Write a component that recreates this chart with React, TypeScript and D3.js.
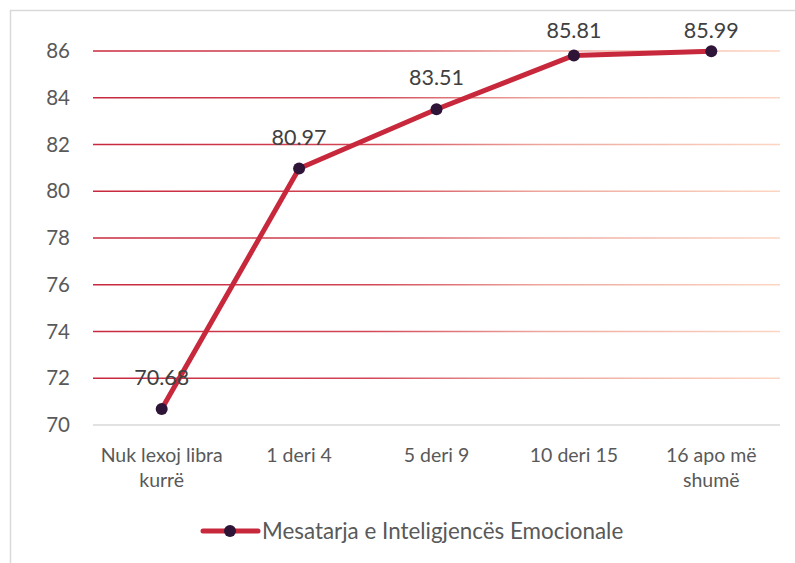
import * as d3 from 'd3';
import React from 'react';

const categories = ['Nuk lexoj libra kurrë', '1 deri 4', '5 deri 9', '10 deri 15', '16 apo më shumë'];
const categoryLines = [['Nuk lexoj libra', 'kurrë'], ['1 deri 4'], ['5 deri 9'], ['10 deri 15'], ['16 apo më', 'shumë']];
const values = [70.68, 80.97, 83.51, 85.81, 85.99];
const yTicks = [70, 72, 74, 76, 78, 80, 82, 84, 86];
const seriesName = 'Mesatarja e Inteligjencës Emocionale';

const W = 795;
const H = 563;
const font = 'Lato, Carlito, Calibri, sans-serif';

export default function App() {
  const plot = { left: 93, right: 780, top: 51, bottom: 425 };
  const x = d3.scaleBand<string>().domain(categories).range([plot.left, plot.right]);
  const y = d3.scaleLinear().domain([70, 86]).range([plot.bottom, plot.top]);
  const cx = (c: string) => (x(c) ?? 0) + x.bandwidth() / 2;

  const line = d3.line<number>()
    .x((_, i) => cx(categories[i]))
    .y(d => y(d));

  return (
    <div style={{ position: 'fixed', left: 0, top: 0 }}>
      <svg width={W} height={H} style={{ display: 'block', background: '#fff' }}>
        <defs>
          <linearGradient id="grid" gradientUnits="userSpaceOnUse" x1={plot.left} x2={plot.right} y1={0} y2={0}>
            <stop offset="0" stopColor="#c8283c" />
            <stop offset="0.4" stopColor="#d24656" />
            <stop offset="0.65" stopColor="#eda69c" />
            <stop offset="1" stopColor="#fcd6c2" />
          </linearGradient>
        </defs>
        <rect x={10.5} y={10.5} width={W + 20} height={H + 20} fill="none" stroke="#d9d9d9" strokeWidth={1.5} />

        {yTicks.map(t => (
          <g key={t}>
            <line x1={plot.left} x2={plot.right} y1={y(t)} y2={y(t)}
              stroke={t === 70 ? '#d9d9d9' : 'url(#grid)'} strokeWidth={1.5} />
            <text x={70} y={y(t)} dy="0.35em" textAnchor="end" fontFamily={font} fontSize={20.5} fill="#595959">{t}</text>
          </g>
        ))}

        {categoryLines.map((lines, i) => (
          <text key={i} x={cx(categories[i])} y={462} textAnchor="middle" fontFamily={font} fontSize={19.5} fill="#595959">
            {lines.map((l, j) => (
              <tspan key={j} x={cx(categories[i])} dy={j === 0 ? 0 : 25}>{l}</tspan>
            ))}
          </text>
        ))}

        <path d={line(values) ?? ''} fill="none" stroke="#c8283c" strokeWidth={5} strokeLinejoin="round" />
        {values.map((v, i) => (
          <g key={i}>
            <circle cx={cx(categories[i])} cy={y(v)} r={6} fill="#2e1437" />
            <text x={cx(categories[i])} y={Math.max(y(v) - 31.5, 30)} dy="0.35em" textAnchor="middle" fontFamily={font} fontSize={21.5} fill="#404040">
              {v.toFixed(2)}
            </text>
          </g>
        ))}

        <g>
          <line x1={203} x2={258} y1={531} y2={531} stroke="#c8283c" strokeWidth={5} strokeLinecap="round" />
          <circle cx={230} cy={531} r={6} fill="#2e1437" />
          <text x={262} y={531} dy="0.35em" fontFamily={font} fontSize={22.4} fill="#595959">{seriesName}</text>
        </g>
      </svg>
    </div>
  );
}
